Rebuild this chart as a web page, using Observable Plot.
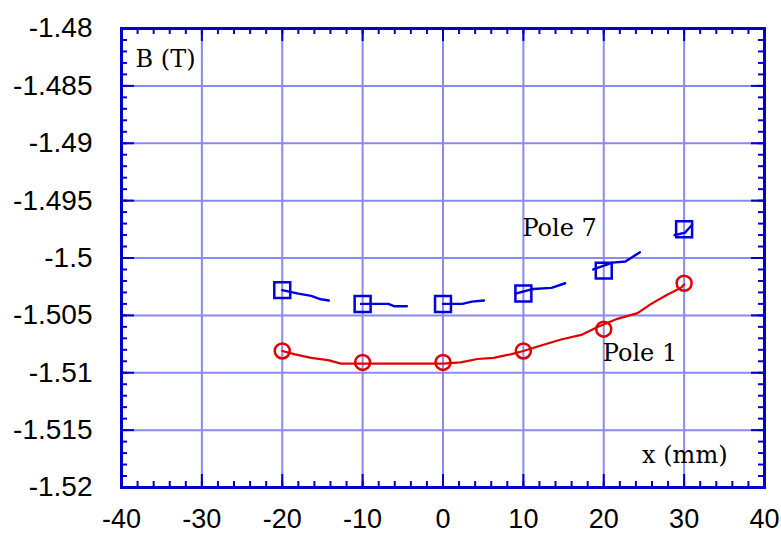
<!DOCTYPE html>
<html>
<head>
<meta charset="utf-8">
<script src="https://cdn.jsdelivr.net/npm/d3@7"></script>
<script src="https://cdn.jsdelivr.net/npm/@observablehq/plot@0.6"></script>
<style>
  html, body { margin: 0; padding: 0; background: #fff; }
</style>
</head>
<body>
<div id="chart"></div>
<script>
// ---- data ----
const xMajor = [-40, -30, -20, -10, 0, 10, 20, 30, 40];
const xMinor = d3.range(-40, 40.001, 2);
const yMajor = [-1.52, -1.515, -1.51, -1.505, -1.5, -1.495, -1.49, -1.485, -1.48];
const yMinor = d3.range(0, 41).map(i => -1.52 + i * 0.001);

// Pole 1 (red) measured curve
const pole1LineX = [-20, -18.4, -16.4, -14.3, -12.7, -10, -5, 0, 2.2, 4.3, 6.3, 8.4, 10, 12.3, 14.7, 17.2, 19.3, 21.7, 24.2, 25.9, 27.9, 29.6, 30];
const pole1LineB = [-1.5081, -1.5084, -1.5087, -1.5089, -1.5092, -1.5092, -1.5092, -1.5092, -1.5091, -1.5088, -1.5087, -1.5084, -1.5081, -1.5076, -1.5071, -1.5067, -1.5060, -1.5053, -1.5048, -1.5040, -1.5032, -1.5026, -1.5023];
// Pole 1 markers
const pole1X = [-20, -10, 0, 10, 20, 30];
const pole1B = [-1.5081, -1.5091, -1.5091, -1.5081, -1.5062, -1.5022];

// Pole 7 (blue) short scans
const pole7SegId = [-20, -20, -20, -20, -20, -10, -10, -10, -10, 0, 0, 0, 0, 10, 10, 10, 10, 20, 20, 20, 20, 30, 30, 30];
const pole7SegX  = [-20, -18, -16.4, -15.2, -14.2, -10.2, -6.8, -6.1, -4.5, 0, 2.4, 3.6, 5.1, 9, 11.2, 13.5, 15.2, 18.7, 21.1, 22.7, 24.5, 28.8, 30.1, 31];
const pole7SegB  = [-1.5028, -1.5031, -1.5033, -1.5036, -1.5037, -1.5040, -1.5040, -1.5042, -1.5042, -1.5040, -1.5040, -1.5038, -1.5037, -1.5031, -1.5027, -1.5026, -1.5022, -1.5010, -1.5004, -1.5003, -1.4995, -1.4980, -1.4978, -1.4971];
// Pole 7 markers
const pole7X = [-20, -10, 0, 10, 20, 30];
const pole7B = [-1.5028, -1.5040, -1.5040, -1.5031, -1.5011, -1.4975];

// text labels
const labels = [
  {text: "Pole 7", x: 10, y: -1.4974},
  {text: "Pole 1", x: 20, y: -1.5083}
];

// ---- build tables ----
const pole1Line = pole1LineX.map((x, i) => ({x, y: pole1LineB[i]}));
const pole1Pts = pole1X.map((x, i) => ({x, y: pole1B[i]}));
const pole7Seg = pole7SegX.map((x, i) => ({x, y: pole7SegB[i], id: pole7SegId[i]}));
const pole7Pts = pole7X.map((x, i) => ({x, y: pole7B[i]}));

const W = 781, H = 534, mL = 121, mR = 17, mT = 28, mB = 47;
const pw = W - mL - mR, ph = H - mT - mB;
const frameColor = "#0000cc";
const gridColor = "#8a8aee";
const majorLen = 13, minorLen = 6;

const xInner = xMajor.slice(1, -1);
const yInner = yMajor.slice(1, -1);

const chart = Plot.plot({
  width: W, height: H,
  marginLeft: mL, marginRight: mR, marginTop: mT, marginBottom: mB,
  x: {domain: [-40, 40]},
  y: {domain: [-1.52, -1.48]},
  style: {background: "#fff", overflow: "visible"},
  marks: [
    // grid
    Plot.ruleX(xInner, {x: d => d, stroke: gridColor, strokeWidth: 2}),
    Plot.ruleY(yInner, {y: d => d, stroke: gridColor, strokeWidth: 2}),
    // minor ticks (inward, all four sides)
    Plot.ruleX(xMinor, {x: d => d, insetTop: ph - minorLen, stroke: frameColor, strokeWidth: 2}),
    Plot.ruleX(xMinor, {x: d => d, insetBottom: ph - minorLen, stroke: frameColor, strokeWidth: 2}),
    Plot.ruleY(yMinor, {y: d => d, insetRight: pw - minorLen, stroke: frameColor, strokeWidth: 2}),
    Plot.ruleY(yMinor, {y: d => d, insetLeft: pw - minorLen, stroke: frameColor, strokeWidth: 2}),
    // major ticks
    Plot.ruleX(xMajor, {x: d => d, insetTop: ph - majorLen, stroke: frameColor, strokeWidth: 2}),
    Plot.ruleX(xMajor, {x: d => d, insetBottom: ph - majorLen, stroke: frameColor, strokeWidth: 2}),
    Plot.ruleY(yMajor, {y: d => d, insetRight: pw - majorLen, stroke: frameColor, strokeWidth: 2}),
    Plot.ruleY(yMajor, {y: d => d, insetLeft: pw - majorLen, stroke: frameColor, strokeWidth: 2}),
    Plot.frame({stroke: frameColor, strokeWidth: 3}),
    // axis labels
    Plot.axisX({ticks: xMajor, tickSize: 0, tickPadding: 21, label: null,
      tickFormat: d => String(d), fontSize: 27, fontFamily: "Liberation Sans", fill: "#000"}),
    Plot.axisY({ticks: yMajor, tickSize: 0, tickPadding: 29, label: null,
      tickFormat: d => String(+d.toFixed(3)), fontSize: 28, fontFamily: "Liberation Sans", fill: "#000"}),
    // Pole 1
    Plot.line(pole1Line, {x: "x", y: "y", stroke: "#e00000", strokeWidth: 2.2}),
    Plot.dot(pole1Pts, {x: "x", y: "y", r: 7.5, stroke: "#e00000", strokeWidth: 2.5, fill: "none"}),
    // Pole 7
    Plot.line(pole7Seg, {x: "x", y: "y", z: "id", stroke: "#0000dd", strokeWidth: 2.4}),
    Plot.dot(pole7Pts, {x: "x", y: "y", r: 9, symbol: "square", stroke: "#0000dd", strokeWidth: 2.5, fill: "none"}),
    // text
    Plot.text(labels, {x: "x", y: "y", text: "text", textAnchor: "start", dx: -1,
      fontSize: 24, fontFamily: "DejaVu Serif", fill: "#000"}),
    Plot.text(["B (T)"], {frameAnchor: "top-left", dx: 14, dy: 21, textAnchor: "start",
      fontSize: 24, fontFamily: "DejaVu Serif", fill: "#000"}),
    Plot.text(["x (mm)"], {frameAnchor: "bottom-right", dx: -37, dy: -25, textAnchor: "end",
      fontSize: 24, fontFamily: "DejaVu Serif", fill: "#000"})
  ]
});
document.getElementById("chart").appendChild(chart);
</script>
</body>
</html>
